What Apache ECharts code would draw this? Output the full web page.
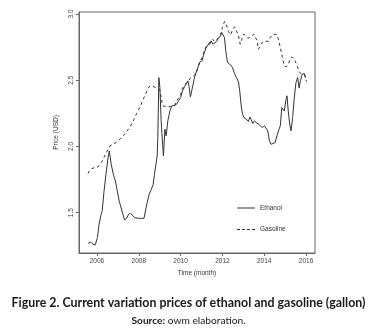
<!DOCTYPE html>
<html>
<head>
<meta charset="utf-8">
<script src="https://cdn.jsdelivr.net/npm/echarts@6/dist/echarts.min.js"></script>
<style>
html,body{margin:0;padding:0;background:#fff;}
#chart{width:377px;height:333px;}
</style>
</head>
<body>
<div id="chart"></div>
<script>
// Data (time in decimal years, price in USD)
var ethanolTime = [2005.57,2005.70,2005.81,2005.92,2006.02,2006.10,2006.18,2006.25,2006.33,2006.43,2006.53,2006.59,2006.68,2006.78,2006.88,2006.97,2007.07,2007.16,2007.24,2007.32,2007.42,2007.51,2007.61,2007.70,2007.80,2007.89,2007.99,2008.12,2008.25,2008.34,2008.40,2008.50,2008.60,2008.69,2008.75,2008.82,2008.88,2008.91,2008.96,2009.01,2009.07,2009.14,2009.18,2009.25,2009.31,2009.39,2009.49,2009.58,2009.71,2009.81,2009.90,2010.00,2010.09,2010.19,2010.28,2010.35,2010.41,2010.47,2010.54,2010.60,2010.67,2010.76,2010.82,2010.90,2011.02,2011.11,2011.21,2011.30,2011.40,2011.46,2011.54,2011.62,2011.72,2011.81,2011.91,2011.97,2012.04,2012.10,2012.16,2012.23,2012.29,2012.39,2012.48,2012.58,2012.67,2012.77,2012.83,2012.89,2012.96,2013.05,2013.15,2013.25,2013.31,2013.37,2013.45,2013.53,2013.63,2013.73,2013.82,2013.91,2014.01,2014.10,2014.17,2014.25,2014.33,2014.42,2014.52,2014.61,2014.71,2014.77,2014.84,2014.90,2014.96,2015.03,2015.09,2015.15,2015.22,2015.28,2015.36,2015.44,2015.52,2015.60,2015.67,2015.73,2015.82,2015.92,2015.98];
var ethanolPrice = [1.268,1.278,1.261,1.256,1.311,1.412,1.475,1.513,1.651,1.790,1.916,1.966,1.865,1.790,1.740,1.664,1.583,1.576,1.487,1.445,1.457,1.487,1.495,1.490,1.462,1.447,1.457,1.457,1.457,1.462,1.576,1.639,1.676,1.714,1.790,1.865,1.928,2.067,2.520,2.445,2.193,2.016,1.928,2.130,2.080,2.193,2.268,2.306,2.311,2.319,2.344,2.369,2.419,2.450,2.465,2.495,2.445,2.374,2.364,2.470,2.525,2.530,2.591,2.634,2.646,2.696,2.742,2.767,2.772,2.797,2.772,2.772,2.792,2.817,2.835,2.860,2.868,2.822,2.722,2.646,2.626,2.616,2.596,2.550,2.520,2.487,2.419,2.319,2.243,2.213,2.205,2.188,2.223,2.205,2.173,2.193,2.178,2.168,2.180,2.142,2.155,2.168,2.117,2.042,2.016,2.011,2.029,2.080,2.130,2.155,2.293,2.306,2.268,2.344,2.382,2.268,2.168,2.117,2.218,2.369,2.482,2.520,2.440,2.495,2.545,2.550,2.520];

var gasolineTime = [2005.57,2005.67,2005.76,2005.86,2005.95,2006.05,2006.14,2006.24,2006.33,2006.43,2006.53,2006.62,2006.72,2006.81,2006.91,2007.00,2007.10,2007.19,2007.29,2007.39,2007.48,2007.58,2007.67,2007.77,2007.86,2007.96,2008.05,2008.15,2008.25,2008.34,2008.44,2008.53,2008.63,2008.72,2008.82,2008.91,2009.01,2009.07,2009.14,2009.23,2009.33,2009.42,2009.52,2009.61,2009.71,2009.81,2009.90,2010.00,2010.09,2010.19,2010.28,2010.38,2010.47,2010.57,2010.67,2010.76,2010.86,2010.95,2011.05,2011.14,2011.24,2011.33,2011.43,2011.53,2011.62,2011.72,2011.81,2011.91,2012.00,2012.10,2012.19,2012.29,2012.39,2012.48,2012.58,2012.67,2012.77,2012.85,2012.93,2013.02,2013.12,2013.21,2013.31,2013.40,2013.50,2013.59,2013.66,2013.72,2013.82,2013.91,2014.01,2014.10,2014.20,2014.29,2014.39,2014.48,2014.58,2014.68,2014.77,2014.87,2014.96,2015.06,2015.15,2015.25,2015.34,2015.44,2015.54,2015.63,2015.73,2015.82,2015.92,2016.02];
var gasolinePrice = [1.795,1.825,1.835,1.840,1.835,1.845,1.865,1.885,1.916,1.946,1.979,2.004,2.011,2.016,2.029,2.042,2.054,2.067,2.087,2.105,2.125,2.147,2.173,2.205,2.236,2.268,2.293,2.331,2.369,2.402,2.437,2.457,2.455,2.450,2.445,2.437,2.424,2.419,2.306,2.304,2.301,2.301,2.301,2.304,2.306,2.344,2.364,2.389,2.440,2.465,2.470,2.495,2.515,2.525,2.540,2.558,2.608,2.646,2.676,2.727,2.759,2.772,2.792,2.810,2.792,2.802,2.822,2.843,2.898,2.943,2.918,2.868,2.843,2.878,2.903,2.873,2.835,2.772,2.810,2.848,2.835,2.817,2.822,2.817,2.848,2.860,2.797,2.734,2.759,2.785,2.797,2.802,2.792,2.822,2.843,2.853,2.848,2.810,2.747,2.671,2.608,2.601,2.621,2.659,2.676,2.659,2.621,2.583,2.550,2.540,2.545,2.490];

var xTicks = [2006, 2008, 2010, 2012, 2014, 2016];
var yTicks = [1.5, 2.0, 2.5, 3.0];
var seriesNames = ['Ethanol', 'Gasoline'];
var xName = 'Time (month)';
var yName = 'Price (USD)';
var captionTitle = 'Figure 2. Current variation prices of ethanol and gasoline (gallon)';
var captionSourceLabel = 'Source:';
var captionSourceText = ' owm elaboration.';

function pairs(t, v) {
  var out = [];
  for (var i = 0; i < t.length; i++) out.push([t[i], v[i]]);
  return out;
}

var chart = echarts.init(document.getElementById('chart'), null, {renderer: 'canvas'});
var axisFont = 'Liberation Sans, Arial, sans-serif';
var solidIcon = 'path://M0,0h18v1h-18z';
var dashedIcon = 'path://M0,0h3v1h-3z M5,0h3v1h-3z M10,0h3v1h-3z M15,0h3v1h-3z';
var option = {
  animation: false,
  backgroundColor: '#ffffff',
  grid: {left: 79, right: 62, top: 12, bottom: 80, show: true, borderColor: '#666', borderWidth: 1, containLabel: false},
  title: [
    {
      text: captionTitle,
      left: 'center', top: 292,
      textStyle: {fontFamily: 'Lato', fontWeight: 'bold', fontSize: 12.4, color: '#1a1a1a'}
    },
    {
      text: '{b|' + captionSourceLabel + '}{n|' + captionSourceText + '}',
      left: 'center', top: 311,
      textStyle: {
        rich: {
          b: {fontFamily: 'Lato', fontWeight: 'bold', fontSize: 10.2, color: '#1a1a1a'},
          n: {fontFamily: 'Lato', fontWeight: 'normal', fontSize: 10.2, color: '#1a1a1a'}
        }
      }
    }
  ],
  legend: {
    orient: 'vertical',
    left: 232, top: 199,
    itemWidth: 18, itemHeight: 1, itemGap: 13.4,
    textStyle: {fontFamily: axisFont, fontSize: 6.5, lineHeight: 8, color: '#333'},
    data: [
      {name: seriesNames[0], icon: solidIcon, itemStyle: {color: '#333'}},
      {name: seriesNames[1], icon: dashedIcon, itemStyle: {color: '#333'}}
    ]
  },
  xAxis: {
    type: 'value',
    min: 2005.14, max: 2016.43,
    name: xName, nameLocation: 'middle', nameGap: 15,
    nameTextStyle: {fontFamily: axisFont, fontSize: 6.5, color: '#333'},
    axisLine: {show: true, lineStyle: {color: '#666', width: 1}},
    axisTick: {show: true, length: 3, inside: false, customValues: xTicks, lineStyle: {color: '#666'}},
    axisLabel: {show: true, margin: 5, customValues: xTicks, fontFamily: axisFont, fontSize: 6.5, color: '#444',
      formatter: function (v) { return String(Math.round(v)); }},
    splitLine: {show: false}
  },
  yAxis: {
    type: 'value',
    min: 1.195, max: 3.015,
    name: yName, nameLocation: 'middle', nameGap: 19, nameRotate: 90,
    nameTextStyle: {fontFamily: axisFont, fontSize: 6.5, color: '#333'},
    axisLine: {show: true, lineStyle: {color: '#666', width: 1}},
    axisTick: {show: true, length: 3, customValues: yTicks, lineStyle: {color: '#666'}},
    axisLabel: {show: true, margin: 4, rotate: 90, customValues: yTicks, fontFamily: axisFont, fontSize: 6.5, color: '#444',
      formatter: function (v) { return v.toFixed(1); }},
    splitLine: {show: false}
  },
  series: [
    {
      name: seriesNames[0], type: 'line', data: pairs(ethanolTime, ethanolPrice),
      symbol: 'none', showSymbol: false, smooth: false,
      lineStyle: {color: '#333', width: 1, type: 'solid'},
      itemStyle: {color: '#333'}
    },
    {
      name: seriesNames[1], type: 'line', data: pairs(gasolineTime, gasolinePrice),
      symbol: 'none', showSymbol: false, smooth: false,
      lineStyle: {color: '#333', width: 1, type: [3, 3]},
      itemStyle: {color: '#333'}
    }
  ]
};
chart.setOption(option);
</script>
</body>
</html>
